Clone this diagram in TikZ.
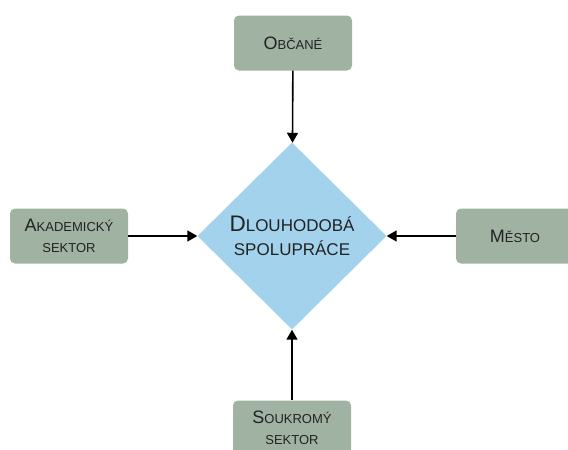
\documentclass[tikz,border=0pt]{standalone}
\usepackage{fontspec}
\setmainfont{Liberation Sans}
\usetikzlibrary{shapes.geometric,arrows.meta}
\definecolor{boxgreen}{RGB}{160,178,162}
\definecolor{goalblue}{RGB}{163,211,236}
\definecolor{textgray}{RGB}{34,34,34}
\newcommand{\initial}[2]{{\fontsize{#1}{#1}\selectfont #2}}
\begin{document}
\begin{tikzpicture}[
	x=1pt, y=-1pt,
	actor/.style={ rectangle, rounded corners=5pt, fill=boxgreen, minimum width=118pt, minimum height=55pt, inner sep=0pt, align=center, text=textgray, font=\fontsize{13}{21}\selectfont },
	goal/.style={ diamond, fill=goalblue, minimum width=189pt, minimum height=187pt, inner sep=0pt, align=center, text=textgray, font=\fontsize{17}{24}\selectfont },
	link/.style={ -{Triangle[length=10pt,width=11pt]}, line width=1.6pt }
]
\useasboundingbox (0,0) rectangle (568,450);

\node at (292,236) (spoluprace) [goal] {\initial{22.5}{D}LOUHODOBÁ\\SPOLUPRÁCE};

\node at (293,43) (obcane) [actor] {\initial{18}{O}BČANÉ};
\node at (69,236) (akademie) [actor] {\initial{18}{A}KADEMICKÝ\\SEKTOR};
\node at (515,236) (mesto) [actor] {\initial{18}{M}ĚSTO};
\node at (292,428) (soukromy) [actor] {\initial{18}{S}OUKROMÝ\\SEKTOR};

\draw [link] (obcane) -- (spoluprace);
\draw [link] (akademie) -- (spoluprace);
\draw [link] (mesto) -- (spoluprace);
\draw [link] (soukromy) -- (spoluprace);

\end{tikzpicture}
\end{document}
